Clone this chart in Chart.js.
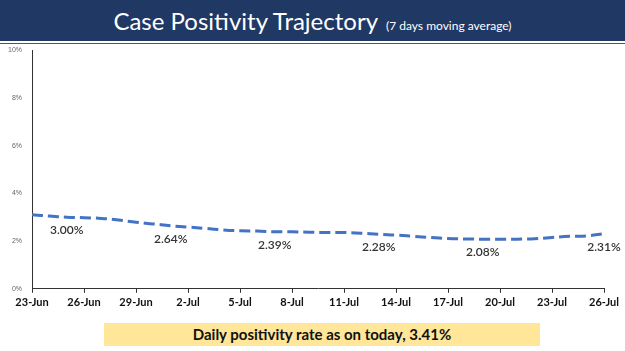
<!DOCTYPE html>
<html>
<head>
<meta charset="utf-8">
<script src="https://cdn.jsdelivr.net/npm/chart.js@4.4.1/dist/chart.umd.min.js"></script>
<style>
  body { margin: 0; width: 625px; height: 351px; background: #fff; overflow: hidden; position: relative; font-family: Lato, "Open Sans", sans-serif; }
  #banner { position: absolute; left: 0; top: 0; width: 625px; height: 41px; background: #1f3864; color: #fff; text-align: center; line-height: 42px; }
  #banner .big { font-size: 24px; }
  #banner .small { font-size: 12px; margin-left: 8px; }
  #rule { position: absolute; left: 0; top: 43px; width: 625px; height: 1px; background: #555; }
  #wrap { position: absolute; left: 0; top: 44px; width: 625px; height: 268px; }
  #note { position: absolute; left: 104px; top: 323px; width: 436px; height: 23px; background: #ffe699; text-align: center; line-height: 23px; font-weight: bold; font-size: 15px; color: #111; }
</style>
</head>
<body>
<div id="banner"><span class="big">Case Positivity Trajectory</span><span class="small">(7 days moving average)</span></div>
<div id="rule"></div>
<div id="wrap"><canvas id="myChart"></canvas></div>
<div id="note">Daily positivity rate as on today, 3.41%</div>
<script>
var days = ['23-Jun','24-Jun','25-Jun','26-Jun','27-Jun','28-Jun','29-Jun','30-Jun','1-Jul','2-Jul','3-Jul','4-Jul',
            '5-Jul','6-Jul','7-Jul','8-Jul','9-Jul','10-Jul','11-Jul','12-Jul','13-Jul','14-Jul','15-Jul','16-Jul',
            '17-Jul','18-Jul','19-Jul','20-Jul','21-Jul','22-Jul','23-Jul','24-Jul','25-Jul','26-Jul'];
var positivity = [3.10, 3.05, 3.00, 2.98, 2.95, 2.88, 2.79, 2.72, 2.64, 2.59, 2.53, 2.47,
                  2.43, 2.42, 2.39, 2.39, 2.37, 2.36, 2.36, 2.33, 2.28, 2.25, 2.20, 2.15,
                  2.11, 2.09, 2.08, 2.08, 2.08, 2.10, 2.15, 2.20, 2.22, 2.31];
var labelledDays = [2, 8, 14, 20, 26, 33];
var yTicks = [0, 2, 4, 6, 8, 10];

// draws the % labels under the line for a few days
var pointLabels = {
    id: 'pointLabels',
    afterDatasetsDraw: function(chart) {
        var ctx = chart.ctx;
        var meta = chart.getDatasetMeta(0);
        ctx.save();
        ctx.font = '600 12px Lato, sans-serif';
        ctx.fillStyle = '#333';
        ctx.textAlign = 'center';
        ctx.textBaseline = 'middle';
        labelledDays.forEach(function(i) {
            var pt = meta.data[i];
            ctx.fillText(positivity[i].toFixed(2) + '%', pt.x, pt.y + 13);
        });
        ctx.restore();
    }
};

var ctx = document.getElementById('myChart').getContext('2d');
var chart = new Chart(ctx, {
    type: 'line',
    data: {
        labels: days,
        datasets: [{
            data: positivity,
            borderColor: '#4472c4',
            borderWidth: 3,
            borderDash: [11, 5],
            pointRadius: 0,
            tension: 0.4,
            fill: false
        }]
    },
    plugins: [pointLabels],
    options: {
        responsive: true,
        maintainAspectRatio: false,
        animation: false,
        layout: { padding: { top: 4, right: 21, left: 6, bottom: 0 } },
        plugins: { legend: { display: false }, tooltip: { enabled: false } },
        scales: {
            x: {
                offset: false,
                border: { color: '#333', width: 1 },
                grid: {
                    drawOnChartArea: false,
                    tickLength: 4,
                    color: function(c) { return c.index % 3 === 0 ? '#333' : 'rgba(0,0,0,0)'; }
                },
                ticks: {
                    autoSkip: false,
                    maxRotation: 0,
                    font: { size: 11, weight: 'bold', family: 'Lato, sans-serif' },
                    color: '#111',
                    callback: function(v, i) { return i % 3 === 0 ? days[i] : ''; }
                }
            },
            y: {
                min: 0,
                max: 10,
                border: { color: '#333', width: 1 },
                grid: { display: false },
                afterBuildTicks: function(axis) { axis.ticks = yTicks.map(function(v) { return { value: v }; }); },
                ticks: {
                    font: { size: 7 },
                    color: '#666',
                    padding: 2,
                    callback: function(v) { return v + '%'; }
                }
            }
        }
    }
});
</script>
</body>
</html>
